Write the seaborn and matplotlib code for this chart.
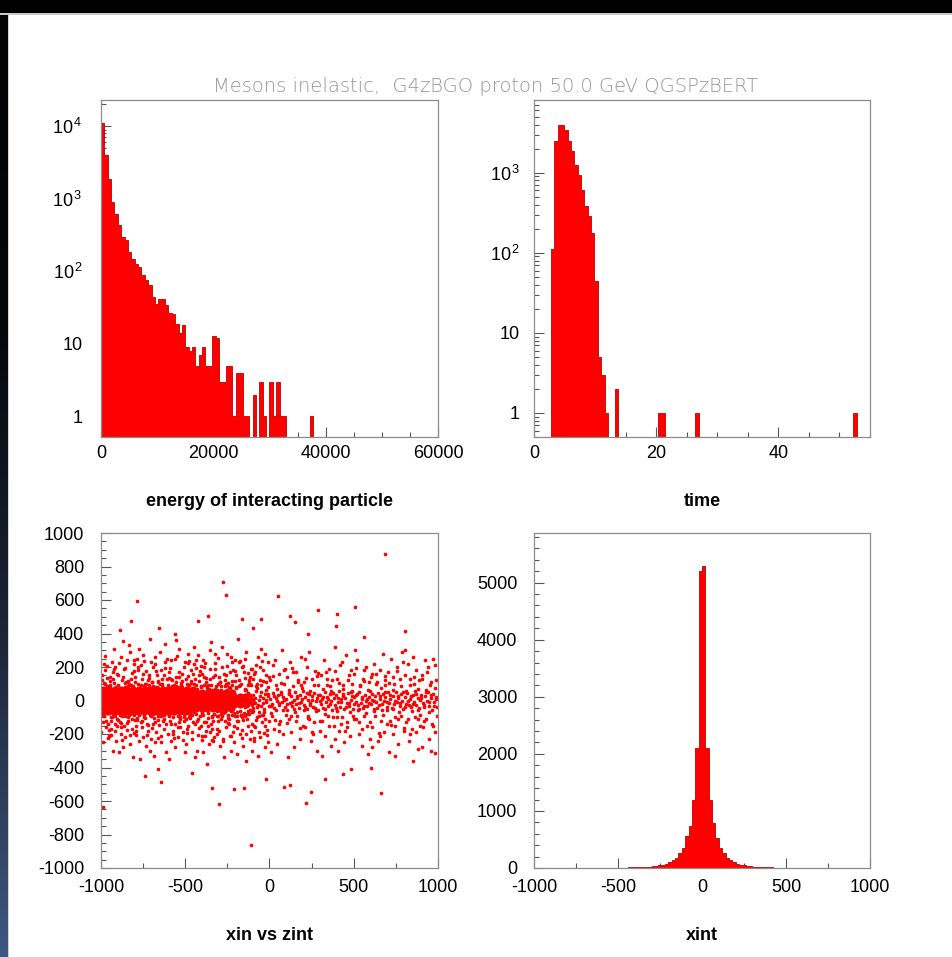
import numpy as np
import pandas as pd
import matplotlib
matplotlib.use("Agg")
import matplotlib.pyplot as plt
import seaborn as sns
from matplotlib.ticker import MultipleLocator, FixedLocator, FixedFormatter, LogLocator, NullFormatter
from matplotlib.colors import LinearSegmentedColormap
from matplotlib.patches import Rectangle

# ---- data ----
TITLE = "Mesons inelastic,  G4zBGO proton 50.0 GeV QGSPzBERT"

# energy of interacting particle: 100 bins 0..60000
energy_counts = [11000, 4000, 1900, 900, 625, 430, 300, 268, 185, 150,
                 128, 115, 88, 75, 64, 44, 36, 42, 42, 34,
                 27, 26, 19, 14, 18, 9, 8, 9, 5, 7,
                 9, 5, 5, 13, 12, 3, 3, 5, 5, 1,
                 4, 4, 1, 1, 0, 2, 0, 3, 1, 0,
                 3, 1, 3, 1, 1, 0, 0, 0, 0, 0,
                 0, 0, 1] + [0] * 37

# time: 100 bins 0..55
time_counts = ([0, 0, 0, 0, 0, 110, 2460, 3980, 3900, 3450,
                2460, 1850, 1260, 945, 610, 380, 285, 177, 44, 5,
                3, 1, 0, 0, 2] + [0] * 12 + [1, 1] + [0] * 9 + [1]
               + [0] * 46 + [1, 0, 0, 0, 0])

# xint: 100 bins -1000..1000
xint_counts = [1, 0, 0, 1, 0, 1, 0, 1, 1, 0,
               1, 1, 2, 1, 2, 2, 2, 3, 2, 3,
               4, 3, 4, 5, 5, 6, 7, 8, 9, 10,
               12, 14, 17, 20, 25, 30, 38, 47, 58, 76,
               100, 135, 175, 263, 350, 555, 730, 1200, 2105, 5200,
               5300, 2105, 1200, 790, 525, 350, 263, 175, 135, 100,
               76, 58, 47, 40, 30, 24, 20, 16, 13, 11,
               9, 8, 7, 6, 5, 5, 4, 4, 3, 3,
               3, 2, 2, 2, 1, 2, 1, 1, 1, 0,
               1, 1, 0, 1, 0, 0, 1, 0, 0, 1]

# xin vs zint scatter: the solid core on the left (bigger dots), then single points
core_y = [-62, -42, -21, 0, 21, 42, 62]
core_x = [
    [-993, -958, -921, -887, -850, -816, -779, -744, -709, -672, -638, -601, -566, -529, -495],
    [-995, -962, -925, -893, -858, -820, -787, -752, -716, -683, -645, -612, -578, -540, -507, -472, -438, -401, -368, -333, -297, -262, -228],
    [-985, -948, -915, -880, -842, -810, -772, -738, -703, -667, -632, -598, -560, -527, -490, -457, -420, -386, -350, -316, -280, -245, -210, -175, -140],
    [-992, -957, -922, -886, -851, -815, -780, -745, -708, -674, -639, -604, -569, -533, -498, -462, -428, -392, -357, -322, -287, -251, -216, -181, -146, -112],
    [-988, -952, -918, -883, -846, -812, -776, -741, -706, -671, -636, -600, -565, -530, -494, -460, -424, -389, -354, -318, -283, -248, -213, -178, -143],
    [-997, -960, -928, -890, -855, -822, -785, -750, -713, -680, -643, -610, -575, -542, -505, -470, -436, -399, -365, -330, -295, -260, -224],
    [-990, -954, -917, -882, -846, -811, -775, -739, -703, -668, -633, -597, -561, -524, -488, -455],
]

band_pts = [
    (-148, -38), (-141, 22), (-133, -5), (-126, 47), (-118, -55), (-110, 12), (-102, -24), (-95, 35), (-87, -12), (-80, 58),
    (-72, -41), (-64, 3), (-57, 29), (-49, -30), (-41, 15), (-33, -52), (-26, 40), (-18, -8), (-10, 24), (-3, -35),
    (5, 7), (13, -18), (20, 44), (28, -47), (36, 16), (44, -2), (51, 33), (59, -27), (67, 52), (74, -10),
    (82, 21), (90, -40), (97, 9), (105, -58), (113, 36), (120, -15), (128, 27), (136, -33), (143, 4), (151, 49),
    (159, -22), (166, 13), (174, -45), (182, 31), (189, -6), (197, 56), (205, -29), (212, 18), (220, -50), (228, 2),
    (235, 38), (243, -13), (251, 25), (258, -36), (266, 46), (274, -3), (281, 14), (289, -55), (297, 30), (304, -20),
    (312, 8), (320, -42), (327, 51), (335, -9), (343, 23), (350, -31), (358, 40), (366, -1), (373, -57), (381, 17),
    (389, -24), (396, 35), (404, -11), (412, 59), (419, -38), (427, 6), (435, 28), (442, -48), (450, 12), (458, -17),
    (465, 44), (473, -30), (481, 1), (488, 26), (496, -53), (504, 19), (511, -7), (519, 37), (527, -26), (534, 50),
    (542, -14), (550, 9), (557, -44), (565, 32), (573, -3), (580, -34), (588, 21), (596, 55), (603, -19), (611, 4),
    (619, -49), (626, 29), (634, -10), (642, 42), (649, -28), (657, 11), (665, -56), (672, 36), (680, -4), (688, 18),
    (695, -37), (703, 48), (711, -15), (718, 7), (726, -45), (734, 25), (741, -22), (749, 53), (757, -8), (764, 14),
    (772, -33), (780, 39), (787, -1), (795, -52), (803, 22), (810, -18), (818, 45), (826, -29), (833, 10), (841, -41),
    (849, 31), (856, -6), (864, 57), (872, -25), (879, 16), (887, -47), (895, 3), (902, 34), (910, -14), (918, -36),
    (925, 27), (933, -2), (941, 50), (948, -31), (956, 12), (964, -54), (971, 38), (979, -11), (987, 20), (995, -40),
    (-144, 5), (-129, -20), (-114, 33), (-99, -46), (-84, 14), (-69, -28), (-53, 50), (-38, -16), (-22, 2), (-7, 41),
    (9, -30), (24, 25), (40, -55), (55, -12), (70, 38), (86, 1), (101, -22), (117, 46), (132, -6), (147, -48),
    (163, 28), (178, -17), (193, 10), (209, -38), (224, 47), (239, -25), (255, 5), (270, -44), (285, 33), (301, -4),
    (316, 20), (331, -52), (347, 9), (362, -20), (377, 44), (393, -45), (408, 15), (423, -6), (439, 36), (454, -38),
    (469, -12), (485, 52), (500, -21), (515, 30), (531, -50), (546, 23), (561, -30), (577, 6), (592, -15), (607, 41),
    (623, -2), (638, -42), (653, 27), (669, -18), (684, 51), (699, -9), (715, 33), (730, -52), (745, 0), (761, 29),
    (776, -14), (791, 48), (807, -39), (822, -5), (837, 24), (853, -21), (868, 37), (883, -58), (899, 15), (914, -26),
    (929, 52), (945, -7), (960, 31), (975, -30), (990, 8),
    # rim of the solid core
    (-997, -88), (-983, 104), (-968, -122), (-955, 79), (-941, -101), (-926, 131), (-912, -76), (-898, 92), (-884, -137), (-869, 70),
    (-855, -95), (-840, 115), (-826, -80), (-812, 86), (-797, -118), (-783, 101), (-768, -73), (-754, 128), (-739, -104), (-725, 77),
    (-711, -88), (-696, 110), (-682, -130), (-667, 82), (-653, -79), (-639, 97), (-624, -112), (-610, 72), (-595, -92), (-581, 124),
    (-566, -75), (-552, 89), (-538, -126), (-523, 106), (-509, -83), (-494, 74), (-480, -98), (-466, 117), (-451, -71), (-437, 91),
    (-422, -109), (-408, 80), (-393, -86), (-379, 133), (-365, -76), (-350, 95), (-336, -121), (-321, 71), (-307, -90), (-292, 108),
    (-278, -72), (-264, 86), (-249, -103), (-235, 77), (-220, -84), (-206, 119), (-191, -68), (-177, 92), (-163, -97), (-148, 70),
    (-134, -78), (-119, 104), (-105, -66), (-990, 66), (-976, -70), (-948, 88), (-919, -92), (-891, 71), (-862, -68), (-833, 99),
    (-805, -86), (-776, 69), (-747, -96), (-718, 90), (-689, -70), (-660, 114), (-631, -84), (-602, 68), (-574, -101), (-545, 80),
    (-516, -69), (-487, 100), (-458, -88), (-430, 67), (-401, -72), (-372, 84), (-343, -95), (-314, 63), (-286, -81), (-257, 99),
    (-228, -64), (-199, 78), (-170, -87), (-141, 64), (-112, 92),
]

halo_pts = [
    (-992, 120), (-985, -95), (-978, 180), (-970, -160), (-962, 85), (-955, -210), (-948, 140), (-941, -120), (-935, 230), (-928, -80),
    (-921, 105), (-915, -185), (-908, 160), (-990, -250), (-975, 265), (-958, -140), (-944, 95), (-931, -300), (-918, 200), (-903, -110),
    (-966, 75), (-950, -75), (-925, 310), (-912, -240), (-938, -170),
    (-897, 150), (-889, -130), (-882, 260), (-874, -90), (-866, 190), (-859, -220), (-851, 110), (-843, -175), (-836, 330), (-828, -260),
    (-821, 95), (-814, -110), (-806, 215), (-893, -310), (-878, 125), (-861, -150), (-847, 240), (-833, -85), (-818, 165), (-803, -195),
    (-870, -280), (-855, 80), (-840, -120), (-825, 290), (-810, -340), (-884, -200), (-868, 355),
    (-796, 140), (-788, -115), (-781, 200), (-773, -240), (-765, 90), (-758, -160), (-750, 270), (-742, -95), (-735, 175), (-727, -205),
    (-720, 120), (-712, -300), (-705, 230), (-792, -180), (-777, 310), (-761, -130), (-746, 85), (-731, -270), (-716, 150), (-703, -90),
    (-784, 245), (-768, -350), (-753, -220), (-738, 100), (-723, -145), (-708, 370),
    (-697, 110), (-690, -140), (-682, 220), (-675, -190), (-667, 150), (-659, -95), (-652, 290), (-644, -250), (-637, 90), (-629, -170),
    (-621, 195), (-614, -310), (-606, 130), (-694, -80), (-679, 260), (-663, -225), (-648, 100), (-633, -120), (-618, 340), (-603, -200),
    (-686, -330), (-671, 80), (-656, -145), (-641, 180), (-626, -85), (-611, 245),
    (-598, 170), (-590, -120), (-583, 240), (-575, -200), (-567, 95), (-560, -280), (-552, 140), (-544, -90), (-537, 310), (-529, -160),
    (-522, 115), (-514, -235), (-506, 200), (-594, -350), (-579, 85), (-563, -140), (-548, 265), (-533, -100), (-518, 160), (-503, -310),
    (-586, 130), (-571, -180), (-556, 360), (-541, -215), (-526, 90), (-510, -125),
    (-497, 130), (-489, -170), (-482, 280), (-474, -105), (-466, 185), (-459, -230), (-451, 100), (-443, -140), (-436, 240), (-428, -300),
    (-421, 150), (-413, -90), (-405, 205), (-493, -260), (-478, 90), (-462, -190), (-447, 320), (-432, -120), (-417, 115), (-402, -210),
    (-485, 225), (-470, -85), (-455, 160), (-440, -340), (-425, 270), (-409, -150),
    (-398, 160), (-390, -130), (-383, 225), (-375, -180), (-367, 95), (-360, -260), (-352, 300), (-344, -100), (-337, 140), (-329, -215),
    (-322, 190), (-314, -90), (-306, 255), (-394, -310), (-379, 110), (-363, -150), (-348, 350), (-333, -240), (-318, 85), (-303, -120),
    (-386, 200), (-371, -380), (-356, 130), (-341, -170), (-326, 280), (-310, -200),
    (-297, 140), (-290, -110), (-282, 200), (-275, -230), (-267, 120), (-259, -160), (-252, 280), (-244, -85), (-237, 170), (-229, -300),
    (-221, 95), (-214, -190), (-206, 240), (-294, -270), (-279, 320), (-263, -125), (-248, 105), (-233, -210), (-218, 185), (-203, -95),
    (-286, 85), (-271, -340), (-256, 150), (-241, -140), (-226, 260), (-210, -250),
    (-198, 150), (-190, -125), (-183, 230), (-175, -200), (-167, 100), (-160, -270), (-152, 170), (-144, -95), (-137, 290), (-129, -150),
    (-121, 120), (-114, -230), (-106, 190), (-194, -320), (-179, 85), (-163, -175), (-148, 250), (-133, -110), (-118, 140), (-103, -300),
    (-186, 370), (-171, -85), (-156, 205), (-141, -360), (-126, 95), (-110, -185),
    (-97, 130), (-90, -150), (-82, 210), (-75, -100), (-67, 260), (-59, -220), (-52, 95), (-44, -130), (-37, 180), (-29, -280),
    (-21, 110), (-14, -175), (-6, 230), (-94, -240), (-79, 85), (-63, -90), (-48, 310), (-33, -195), (-18, 150), (-3, -120),
    (-86, 170), (-71, -330), (-56, 120), (-41, -85), (-26, 280), (-10, -250),
    (4, 120), (12, -95), (21, 210), (29, -170), (38, 90), (46, -260), (55, 160), (63, -120), (72, 300), (80, -200),
    (89, 100), (97, -85), (8, -310), (34, 240), (59, -140), (85, 180),
    (104, 140), (113, -110), (121, 230), (130, -190), (138, 85), (147, -280), (155, 170), (164, -90), (172, 120), (181, -230),
    (189, 260), (198, -150), (109, -340), (134, 195), (160, -125), (185, 95),
    (203, 110), (212, -160), (220, 200), (229, -95), (237, 290), (246, -240), (254, 130), (263, -130), (271, 175), (280, -300),
    (288, 90), (297, -185), (208, 250), (233, -110), (258, -200), (284, 145),
    (305, 150), (313, -120), (322, 240), (330, -210), (339, 95), (347, -90), (356, 190), (364, -270), (373, 120), (381, -150),
    (390, 320), (398, -100), (309, -330), (335, 170), (360, 85), (386, -230),
    (402, 130), (411, -180), (419, 210), (428, -100), (436, 95), (445, -250), (453, 270), (462, -130), (470, 150), (479, -210),
    (487, 100), (496, -90), (407, -300), (432, 230), (458, -160), (483, 180),
    (504, 160), (512, -110), (521, 240), (529, -200), (538, 90), (546, -270), (555, 130), (563, -95), (572, 200), (580, -150),
    (589, 110), (597, -230), (508, 300), (534, -130), (559, 185), (585, -320),
    (603, 140), (611, -160), (620, 220), (628, -95), (637, 110), (645, -240), (654, 180), (662, -120), (671, 280), (679, -190),
    (688, 95), (696, -140), (607, -280), (632, 160), (658, -210), (683, 120),
    (705, 170), (713, -120), (722, 250), (730, -200), (739, 100), (747, -150), (756, 200), (764, -260), (773, 130), (781, -95),
    (790, 230), (798, -180), (709, -310), (735, 140), (760, -110), (786, 290),
    (802, 150), (811, -130), (819, 220), (828, -240), (836, 95), (845, -170), (853, 260), (862, -100), (870, 180), (879, -290),
    (887, 120), (896, -150), (807, 300), (832, -200), (858, 140), (883, -110),
    (904, 130), (912, -160), (921, 240), (929, -110), (938, 200), (946, -230), (955, 95), (963, -140), (972, 250), (980, -190),
    (989, 120), (997, -90), (908, -280), (934, 170), (959, -300), (985, 210),
    # outliers
    (683, 873), (-277, 709), (-257, 630), (-786, 596), (50, 624), (287, 540), (509, 556), (400, 516), (-822, 477), (-366, 506),
    (-50, 485), (119, 506), (149, 467), (-426, 477), (-162, 487), (802, 415), (-653, 431), (396, 445), (-109, -863), (-301, -618),
    (-644, -489), (663, -554), (851, -359), (214, -614), (248, -544), (-208, -530), (-341, -524), (-663, -406), (89, -514), (119, -504),
    (436, -441), (485, -411), (604, -405), (743, -331), (980, -315), (-990, -635), (-890, 420), (-560, 395), (-100, 430), (230, 400),
    (560, 380), (-740, -450), (-460, -430), (-20, -470), (330, -470), (-151, -522),
]

# inner cloud, |xin| up to ~250
cloud_pts = [
    (-996, 152), (-987, -128), (-979, 96), (-971, -72), (-963, 205), (-952, -176), (-943, 64), (-934, -99), (-926, 171), (-917, -142),
    (-909, 78), (-999, -190), (-983, 220), (-960, -225), (-947, 118), (-930, -66), (-921, 187), (-906, -152), (-967, 132), (-939, -205),
    (-898, -118), (-890, 68), (-881, -160), (-872, 142), (-864, -74), (-855, 196), (-846, -132), (-838, 88), (-829, -208), (-820, 126),
    (-811, -62), (-802, 178), (-894, 222), (-876, -236), (-859, 104), (-842, -98), (-825, 62), (-816, -172), (-807, 240), (-886, -84),
    (-799, 112), (-791, -150), (-782, 72), (-774, -88), (-765, 214), (-757, -122), (-748, 160), (-740, -60), (-731, 98), (-722, -185),
    (-714, 136), (-705, -230), (-795, -205), (-778, 182), (-761, -66), (-744, 238), (-727, -138), (-710, 70), (-786, -102), (-718, -76),
    (-698, -162), (-689, 86), (-681, -70), (-672, 176), (-664, -118), (-655, 62), (-646, -210), (-638, 128), (-629, -78), (-620, 232),
    (-612, -140), (-603, 92), (-694, 202), (-677, -245), (-660, 108), (-643, -92), (-625, 154), (-608, -64), (-685, -102), (-633, 66),
    (-599, -88), (-591, 196), (-582, -142), (-573, 66), (-565, -226), (-556, 112), (-548, -64), (-539, 170), (-530, -112), (-522, 80),
    (-513, -188), (-504, 228), (-595, 132), (-578, -74), (-561, 246), (-544, -160), (-527, 62), (-510, -96), (-587, -240), (-535, 140),
    (-498, 70), (-490, -196), (-481, 148), (-472, -68), (-464, 102), (-455, -128), (-447, 218), (-438, -82), (-429, 64), (-421, -162),
    (-412, 176), (-403, -236), (-494, -110), (-477, 236), (-460, -60), (-443, 130), (-426, -204), (-408, 88), (-485, -150), (-434, 192),
    (-399, -68), (-391, 138), (-382, -210), (-373, 76), (-365, -104), (-356, 188), (-347, -142), (-339, 62), (-330, -82), (-321, 226),
    (-313, -170), (-304, 100), (-395, 244), (-378, -128), (-361, 66), (-344, -236), (-326, 150), (-309, -62), (-386, 92), (-352, -190),
    (-298, -182), (-290, 64), (-281, -94), (-272, 158), (-264, -66), (-255, 206), (-246, -136), (-238, 80), (-229, -212), (-220, 118),
    (-212, -72), (-203, 176), (-294, 110), (-277, -240), (-260, 90), (-243, -108), (-225, 228), (-208, -150), (-285, -70), (-251, 62),
    (-199, 76), (-190, -166), (-182, 124), (-173, -62), (-165, 202), (-156, -114), (-147, 64), (-139, -198), (-130, 166), (-121, -80),
    (-113, 98), (-104, -140), (-195, -92), (-178, 236), (-161, -226), (-143, 132), (-126, -64), (-109, 186), (-186, -122), (-152, -76),
    (-98, -62), (-90, 156), (-81, -118), (-72, 72), (-64, -190), (-55, 202), (-46, -84), (-38, 116), (-29, -150), (-20, 64),
    (-12, -206), (-3, 140), (-94, -226), (-77, 96), (-60, -70), (-42, 238), (-25, -110), (-8, 82), (-85, -160), (-33, -66),
    (7, -72), (19, 148), (31, -116), (43, 66), (56, -180), (68, 102), (80, -58), (93, 190), (105, -134), (117, 60),
    (130, -92), (142, 168), (154, -68), (167, 112), (179, -162), (191, 76), (204, -56), (216, 136), (228, -104), (241, 58),
    (253, -186), (265, 94), (278, -64), (290, 162), (302, -122), (315, 70), (327, -80), (339, 128), (352, -150), (364, 54),
    (376, -96), (389, 178), (401, -62), (413, 104), (426, -140), (438, 66), (450, -184), (463, 122), (475, -70), (487, 58),
    (500, -108), (512, 192), (524, -58), (537, 86), (549, -172), (561, 118), (574, -76), (586, 64), (598, -128), (611, 160),
    (623, -60), (635, 96), (648, -194), (660, 72), (672, -88), (685, 144), (697, -54), (709, 106), (722, -146), (734, 62),
    (746, -98), (759, 176), (771, -66), (783, 84), (796, -164), (808, 56), (820, -110), (833, 130), (845, -60), (857, 98),
    (870, -188), (882, 68), (894, -84), (907, 152), (919, -120), (931, 60), (944, -70), (956, 108), (968, -150), (981, 74),
]

# ---- tables ----
def hist_table(counts, lo, hi):
    edges = np.linspace(lo, hi, len(counts) + 1)
    return pd.DataFrame({"x": (edges[:-1] + edges[1:]) / 2, "n": counts}), list(edges)

energy_df, energy_edges = hist_table(energy_counts, 0, 60000)
time_df, time_edges = hist_table(time_counts, 0, 55)
xint_df, xint_edges = hist_table(xint_counts, -1000, 1000)

core_df = pd.DataFrame([(x, y) for y, xs in zip(core_y, core_x) for x in xs], columns=["zint", "xin"])
small_df = pd.DataFrame(band_pts + halo_pts + cloud_pts, columns=["zint", "xin"])

# ---- style ----
sns.set_theme(style="white")
plt.rcParams['font.family'] = ['Liberation Sans', 'DejaVu Sans']
plt.rcParams['axes.unicode_minus'] = False
plt.rcParams['mathtext.fontset'] = 'custom'
plt.rcParams['mathtext.rm'] = 'Liberation Sans'
plt.rcParams['mathtext.it'] = 'Liberation Sans:italic'
plt.rcParams['mathtext.bf'] = 'Liberation Sans:bold'

W, H = 953, 957
fig = plt.figure(figsize=(W / 100, H / 100), dpi=100)
fig.patch.set_facecolor("white")


def box(x0, y0, x1, y1):
    return [x0 / W, 1 - y1 / H, (x1 - x0) / W, (y1 - y0) / H]


ax_e = fig.add_axes(box(101, 100, 438, 437))
ax_t = fig.add_axes(box(534, 100, 870, 437))
ax_s = fig.add_axes(box(101, 533, 438, 868))
ax_x = fig.add_axes(box(534, 533, 870, 868))

RED = "#ff0000"
EDGE = "#c00000"


def style(ax, ypad):
    for sp in ax.spines.values():
        sp.set_color("#8c8c8c")
        sp.set_linewidth(0.9)
    ax.tick_params(which="both", direction="in", top=False, right=False,
                   bottom=True, left=True, color="#555555", labelsize=13, labelcolor="black")
    ax.tick_params(which="major", length=7, width=0.8)
    ax.tick_params(which="minor", length=3.5, width=0.8)
    ax.tick_params(axis="y", pad=ypad)
    ax.set_xlabel("")
    ax.set_ylabel("")


# energy
sns.histplot(data=energy_df, x="x", weights="n", bins=energy_edges, element="step", fill=True,
             color=RED, alpha=1, edgecolor=EDGE, linewidth=0.6, ax=ax_e)
ax_e.set_yscale("log")
ax_e.set_xlim(0, 60000)
ax_e.set_ylim(0.52, 23000)
ax_e.xaxis.set_major_locator(FixedLocator([0, 20000, 40000, 60000]))
ax_e.xaxis.set_minor_locator(MultipleLocator(5000))
ax_e.yaxis.set_major_locator(FixedLocator([1, 10, 100, 1000, 10000]))
ax_e.yaxis.set_major_formatter(FixedFormatter(["1", "10", r"$10^{\,2}$", r"$10^{\,3}$", r"$10^{\,4}$"]))
ax_e.yaxis.set_minor_locator(LogLocator(base=10, subs=np.arange(2, 10)))
ax_e.yaxis.set_minor_formatter(NullFormatter())
style(ax_e, 13)
ax_e.tick_params(axis="x", pad=6)

# time
sns.histplot(data=time_df, x="x", weights="n", bins=time_edges, element="step", fill=True,
             color=RED, alpha=1, edgecolor=EDGE, linewidth=0.6, ax=ax_t)
ax_t.set_yscale("log")
ax_t.set_xlim(0, 55)
ax_t.set_ylim(0.5, 8100)
ax_t.xaxis.set_major_locator(FixedLocator([0, 20, 40]))
ax_t.xaxis.set_minor_locator(MultipleLocator(5))
ax_t.yaxis.set_major_locator(FixedLocator([1, 10, 100, 1000]))
ax_t.yaxis.set_major_formatter(FixedFormatter(["1", "10", r"$10^{\,2}$", r"$10^{\,3}$"]))
ax_t.yaxis.set_minor_locator(LogLocator(base=10, subs=np.arange(2, 10)))
ax_t.yaxis.set_minor_formatter(NullFormatter())
style(ax_t, 10)
ax_t.tick_params(axis="x", pad=6)

# scatter
sns.scatterplot(data=core_df, x="zint", y="xin", s=34, color=RED, linewidth=0, ax=ax_s)
sns.scatterplot(data=small_df, x="zint", y="xin", s=7, color=RED, linewidth=0, ax=ax_s)
ax_s.set_xlim(-1000, 1000)
ax_s.set_ylim(-1000, 1000)
ax_s.xaxis.set_major_locator(MultipleLocator(500))
ax_s.xaxis.set_minor_locator(MultipleLocator(250))
ax_s.yaxis.set_major_locator(MultipleLocator(200))
ax_s.yaxis.set_minor_locator(MultipleLocator(50))
style(ax_s, 12)
ax_s.tick_params(axis="x", pad=8)

# xint
sns.histplot(data=xint_df, x="x", weights="n", bins=xint_edges, element="step", fill=True,
             color=RED, alpha=1, edgecolor=EDGE, linewidth=0.6, ax=ax_x)
ax_x.set_xlim(-1000, 1000)
ax_x.set_ylim(0, 5870)
ax_x.xaxis.set_major_locator(MultipleLocator(500))
ax_x.xaxis.set_minor_locator(MultipleLocator(250))
ax_x.yaxis.set_major_locator(MultipleLocator(1000))
ax_x.yaxis.set_minor_locator(MultipleLocator(200))
style(ax_x, 12)
ax_x.tick_params(axis="x", pad=8)

# axis titles
label_kw = dict(ha="center", va="center", fontsize=13, fontweight="bold", color="black")
for ax, txt, ypx in [(ax_e, "energy of interacting particle", 502), (ax_t, "time", 502),
                     (ax_s, "xin vs zint", 935), (ax_x, "xint", 935)]:
    ax.set_xlabel(txt, **label_kw)
    bottom_px = H - ax.get_position().y0 * H
    ax.xaxis.set_label_coords(0.5, -(ypx - bottom_px) / (ax.get_position().height * H))

fig.text(486 / W, 1 - 86 / H, TITLE, ha="center", va="center", fontsize=14,
         color="#959595", family=["DejaVu Sans"], fontweight="light")

# screenshot frame: black top strip, dark gradient strip on the left
fig.patches.append(Rectangle((0, 1 - 13 / H), 1, 13 / H, transform=fig.transFigure,
                             facecolor="black", edgecolor="none", zorder=10))
fig.patches.append(Rectangle((0, 1 - 15 / H), 1, 2 / H, transform=fig.transFigure,
                             facecolor="#c8c8c8", edgecolor="none", zorder=10))
edge_ax = fig.add_axes([0, 0, 8 / W, 1 - 13 / H])
edge_cmap = LinearSegmentedColormap.from_list("edge", ["#030303", "#05070b", "#1c2638", "#3e5680"])
edge_ax.imshow(np.linspace(0, 1, 256).reshape(-1, 1), aspect="auto", cmap=edge_cmap)
edge_ax.axis("off")
fig.patches.append(Rectangle((8 / W, 0), 1.5 / W, 1 - 13 / H, transform=fig.transFigure,
                             facecolor="#d0d0d0", edgecolor="none", zorder=10))

fig.savefig("out.png", dpi=100)
